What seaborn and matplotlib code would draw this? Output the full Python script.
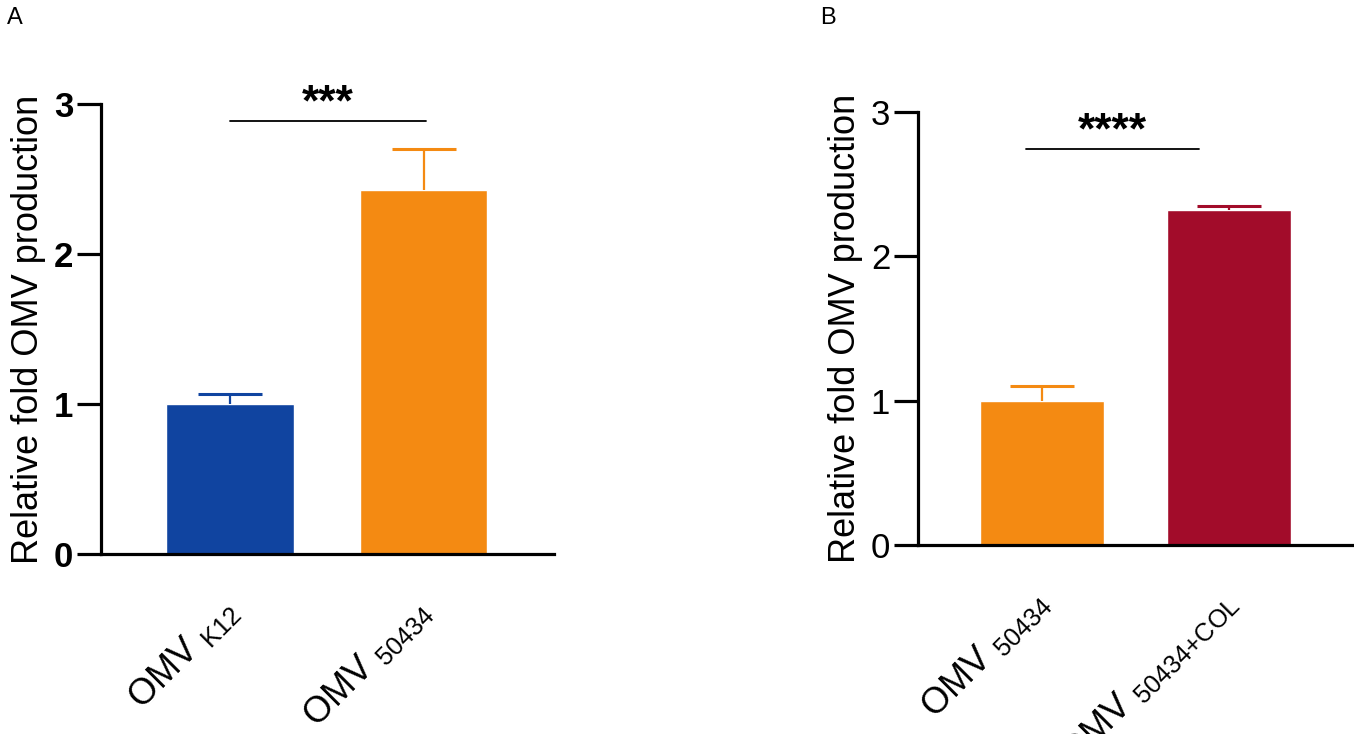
import numpy as np
import matplotlib
matplotlib.use('Agg')
import matplotlib.pyplot as plt
import matplotlib.transforms as mtransforms
import seaborn as sns

# Panel A data
cats_a = ['OMV $_{\\mathrm{K12}}$', 'OMV $_{\\mathrm{50434}}$']
means_a = [1.00, 2.43]
sem_a = [0.07, 0.27]
colors_a = ['#1044A0', '#F48A12']

# Panel B data
cats_b = ['OMV $_{\\mathrm{50434}}$', 'OMV $_{\\mathrm{50434{+}COL}}$']
means_b = [1.00, 2.32]
sem_b = [0.10, 0.03]
colors_b = ['#F48A12', '#A20C2A']

sns.set_style('white')
plt.rcParams['font.family'] = ['Liberation Sans', 'DejaVu Sans']
plt.rcParams['mathtext.fontset'] = 'custom'
plt.rcParams['mathtext.rm'] = 'Liberation Sans'
plt.rcParams['text.color'] = 'black'
plt.rcParams['axes.labelcolor'] = 'black'
plt.rcParams['xtick.color'] = 'black'
plt.rcParams['ytick.color'] = 'black'

fig = plt.figure(figsize=(13.54, 7.34), dpi=100)
ax_a = fig.add_axes([0.0746, 0.2452, 0.3346, 0.613])
ax_b = fig.add_axes([0.678, 0.2575, 0.322, 0.590])


def draw_panel(ax, cats, means, errs, colors, xlim, bold, sig, sig_x, sig_y, star_y):
    sns.barplot(x=cats, y=means, hue=cats, palette=colors, legend=False,
                errorbar=None, width=0.66, ax=ax, saturation=1)
    # one-sided error bars (upper only), same colour as bar
    for i, (m, e, c) in enumerate(zip(means, errs, colors)):
        _, caps, _ = ax.errorbar(i, m, yerr=[[0], [e]], color=c, capsize=23,
                                 elinewidth=1.6, capthick=2.2, zorder=3)
        caps[0].set_visible(False)
    ax.set_ylim(0, 3)
    ax.set_xlim(*xlim)
    ax.set_yticks([0, 1, 2, 3])
    ax.set_yticklabels(['0', '1', '2', '3'], fontsize=25,
                       fontweight='bold' if bold else 'normal')
    ax.set_ylabel('Relative fold OMV production', fontsize=26, labelpad=6)
    ax.set_xlabel('')
    ax.tick_params(axis='y', direction='out', length=17, width=2.3, pad=3, left=True)
    ax.tick_params(axis='x', length=0, pad=16)
    shift = mtransforms.ScaledTranslation(-11 / 100, -16 / 100, fig.dpi_scale_trans)
    for lbl in ax.get_xticklabels():
        lbl.set_rotation(45)
        lbl.set_ha('right')
        lbl.set_rotation_mode('anchor')
        lbl.set_fontsize(26)
        lbl.set_transform(lbl.get_transform() + shift)
    for s in ['top', 'right']:
        ax.spines[s].set_visible(False)
    for s in ['left', 'bottom']:
        ax.spines[s].set_linewidth(2.3)
        ax.spines[s].set_color('black')
    ax.plot(sig_x, [sig_y, sig_y], color='black', lw=1.3, clip_on=False)
    ax.text(np.mean(sig_x), star_y, sig, ha='center', va='center', fontsize=32,
            fontweight='bold', clip_on=False)


draw_panel(ax_a, cats_a, means_a, sem_a, colors_a, (-0.667, 1.674), True,
           '***', [0.0, 1.01], 2.89, 3.0)
draw_panel(ax_b, cats_b, means_b, sem_b, colors_b, (-0.663, 1.668), False,
           '****', [-0.086, 0.84], 2.74, 2.86)

fig.text(0.005, 0.975, 'A', fontsize=17, va='center', ha='left')
fig.text(0.606, 0.975, 'B', fontsize=17, va='center', ha='left')

fig.savefig('out.png', dpi=100)
